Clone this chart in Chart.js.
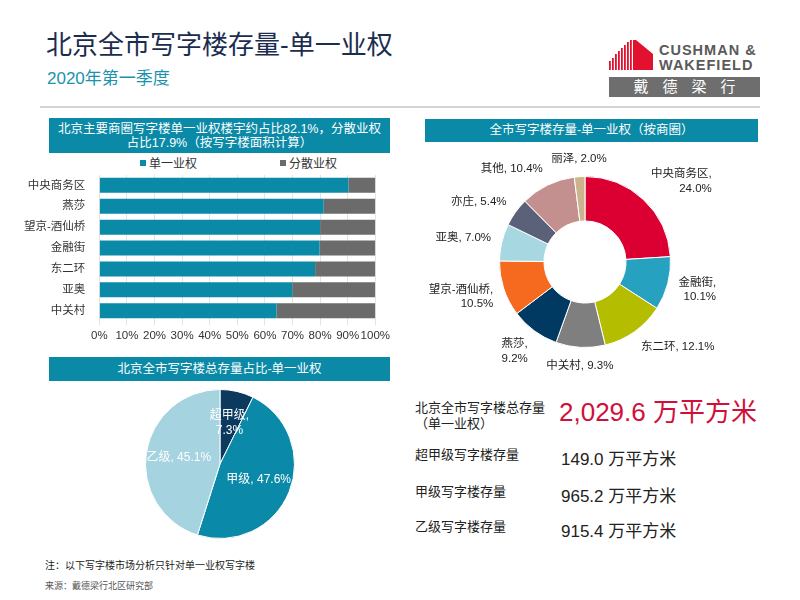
<!DOCTYPE html>
<html>
<head>
<meta charset="utf-8">
<script src="https://cdn.jsdelivr.net/npm/chart.js@4"></script>
<style>
  body { margin: 0; background: #fff; font-family: "Liberation Sans", "Noto Sans CJK SC", sans-serif; }
  #page { position: relative; width: 800px; height: 600px; overflow: hidden; }
  .abs { position: absolute; white-space: nowrap; }
  .hdr { position: absolute; background: #0b8aa8; color: #fff; font-size: 12.5px; text-align: center; }
  .lbl { position: absolute; font-size: 13px; color: #222; line-height: 16px; }
  .val { position: absolute; font-size: 17px; color: #222; white-space: nowrap; }
</style>
</head>
<body>
<div id="page">
  <div class="abs" style="left:46px;top:24px;font-size:26px;color:#1b2d4f;">北京全市写字楼存量-单一业权</div>
  <div class="abs" style="left:47px;top:64px;font-size:17px;color:#1a93ad;">2020年第一季度</div>

  <!-- logo -->
  <svg class="abs" style="left:609px;top:40px;" width="46" height="30">
    <g fill="#e2112d">
      <rect x="0" y="21" width="1.8" height="9"/>
      <rect x="3" y="18" width="1.8" height="12"/>
      <rect x="6" y="14" width="1.8" height="16"/>
      <rect x="9" y="11" width="1.8" height="19"/>
      <rect x="12" y="8" width="1.8" height="22"/>
      <rect x="15" y="5" width="1.8" height="25"/>
      <rect x="18" y="2" width="1.8" height="28"/>
      <rect x="21" y="0" width="1.8" height="30"/>
      <polygon points="24,0 27,0 44,14 44,30 24,30"/>
    </g>
  </svg>
  <div class="abs" style="left:659px;top:43px;font-size:14.5px;font-weight:bold;color:#5a5a5a;letter-spacing:1px;line-height:15px;">CUSHMAN &amp;<br>WAKEFIELD</div>
  <div class="abs" style="left:609px;top:77px;width:151px;height:20px;background:#6e6e6e;color:#fff;font-size:15px;line-height:20px;text-align:center;letter-spacing:14px;text-indent:14px;">戴德梁行</div>
  <div class="abs" style="left:40px;top:106px;width:720px;height:2px;background:#d4d4d4;"></div>

  <!-- section 1 -->
  <div class="hdr" style="left:49px;top:118px;width:341px;height:35px;line-height:14px;padding-top:4px;box-sizing:border-box;">北京主要商圈写字楼单一业权楼宇约占比82.1%，分散业权<br>占比17.9%（按写字楼面积计算）</div>
  <div id="barLegend" class="abs" style="left:0;top:156px;width:440px;height:16px;font-size:12px;color:#333;"></div>
  <div class="abs" style="left:18px;top:162px;width:376px;height:185px;"><canvas id="barChart"></canvas></div>

  <!-- section 2 -->
  <div class="hdr" style="left:425px;top:119px;width:333px;height:23px;line-height:23px;">全市写字楼存量-单一业权（按商圈）</div>
  <div class="abs" style="left:420px;top:146px;width:340px;height:232px;"><canvas id="donutChart"></canvas></div>

  <!-- section 3 -->
  <div class="hdr" style="left:49px;top:357px;width:341px;height:24px;line-height:24px;">北京全市写字楼总存量占比-单一业权</div>
  <div class="abs" style="left:100px;top:384px;width:240px;height:160px;"><canvas id="pieChart"></canvas></div>

  <div class="abs" style="left:45px;top:557px;font-size:10px;color:#222;">注：以下写字楼市场分析只针对单一业权写字楼</div>
  <div class="abs" style="left:45px;top:579px;font-size:9px;color:#555;">来源：戴德梁行北区研究部</div>

  <!-- section 4 -->
  <div id="stats"></div>
</div>

<script>
var FONT = '"Liberation Sans", "Noto Sans CJK SC", sans-serif';

// bar chart: share by ownership type per business district
var districts = ['中央商务区', '燕莎', '望京-酒仙桥', '金融街', '东二环', '亚奥', '中关村'];
var singleOwner = [90.3, 81.3, 80.0, 79.8, 78.2, 69.9, 64.2];
var splitOwner = [9.7, 18.7, 20.0, 20.2, 21.8, 30.1, 35.8];
var seriesNames = ['单一业权', '分散业权'];
var xTicks = [0, 10, 20, 30, 40, 50, 60, 70, 80, 90, 100];

// doughnut: city-wide stock by district
var donutNames = ['中央商务区', '金融街', '东二环', '中关村', '燕莎', '望京-酒仙桥', '亚奥', '亦庄', '其他', '丽泽'];
var donutValues = [24.0, 10.1, 12.1, 9.3, 9.2, 10.5, 7.0, 5.4, 10.4, 2.0];

// pie: grade shares
var gradeNames = ['超甲级', '甲级', '乙级'];
var gradeValues = [7.3, 47.6, 45.1];

// stock figures
var totalLabel = ['北京全市写字楼总存量', '（单一业权）'];
var totalStock = 2029.6;
var stockLabels = ['超甲级写字楼存量', '甲级写字楼存量', '乙级写字楼存量'];
var stockValues = [149.0, 965.2, 915.4];
var unit = '万平方米';

var barColors = ['#0b8aa8', '#6b6b6b'];
var donutColors = ['#dc0032', '#26a1c0', '#b5bd00', '#7f7f7f', '#003a63', '#f56a1e', '#a7d7e1', '#5a6179', '#c4908f', '#cdb38d'];
var donutWrap = [true, true, false, false, true, true, false, false, false, false];
var gradeColors = ['#0b3a5e', '#0a89a8', '#a5d3df'];
var gradeWrap = [true, false, false];

// legend for the bar chart
var legendHtml = '';
var legendX = [140, 280];
seriesNames.forEach(function(n, i) {
    legendHtml += '<span style="position:absolute;left:' + legendX[i] + 'px;top:0;line-height:16px;">' +
        '<span style="display:inline-block;width:6px;height:6px;background:' + barColors[i] + ';margin-right:3px;vertical-align:2px;"></span>' + n + '</span>';
});
document.getElementById('barLegend').innerHTML = legendHtml;

// stats block
function fmt(v) {
    return v.toLocaleString('en-US', {minimumFractionDigits: 1, maximumFractionDigits: 1});
}
var statsHtml = '<div class="lbl" style="left:415px;top:400px;">' + totalLabel[0] + '<br>' + totalLabel[1] + '</div>' +
    '<div class="val" style="left:559px;top:391px;font-size:26px;color:#d0103a;">' + fmt(totalStock) + ' ' + unit + '</div>';
var rowY = [447, 484, 519];
stockLabels.forEach(function(l, i) {
    statsHtml += '<div class="lbl" style="left:415px;top:' + rowY[i] + 'px;">' + l + '</div>' +
        '<div class="val" style="left:561px;top:' + (rowY[i] - 2) + 'px;">' + fmt(stockValues[i]) + ' ' + unit + '</div>';
});
document.getElementById('stats').innerHTML = statsHtml;

// bar chart
new Chart(document.getElementById('barChart'), {
    type: 'bar',
    data: {
        labels: districts,
        datasets: [
            { label: seriesNames[0], data: singleOwner, backgroundColor: barColors[0] },
            { label: seriesNames[1], data: splitOwner, backgroundColor: barColors[1] }
        ]
    },
    options: {
        indexAxis: 'y',
        responsive: true,
        maintainAspectRatio: false,
        animation: false,
        layout: { padding: { top: 0, right: 4 } },
        plugins: { legend: { display: false }, tooltip: { enabled: false } },
        scales: {
            x: {
                stacked: true,
                min: 0,
                max: 100,
                afterBuildTicks: function(axis) {
                    axis.ticks = xTicks.map(function(v) { return { value: v }; });
                },
                ticks: {
                    callback: function(v) { return v + '%'; },
                    font: { family: FONT, size: 11.5 },
                    color: '#333',
                    maxRotation: 0,
                    autoSkip: false,
                    padding: 4
                },
                grid: { color: '#e4e4e4', drawTicks: true, tickLength: 4 },
                border: { display: false }
            },
            y: {
                stacked: true,
                ticks: { font: { family: FONT, size: 11.5 }, color: '#333', padding: 6 },
                grid: { display: false },
                border: { display: false },
                barPercentage: 0.38,
                categoryPercentage: 1
            }
        }
    }
});

// outside labels for doughnut, inside labels for pie
function arcLabels(opts) {
    return {
        id: opts.id,
        afterDatasetsDraw: function(chart) {
            var ctx = chart.ctx;
            var meta = chart.getDatasetMeta(0);
            var names = chart.data.labels;
            var vals = chart.data.datasets[0].data;
            ctx.save();
            ctx.font = opts.size + 'px ' + FONT;
            ctx.fillStyle = opts.color;
            ctx.textBaseline = 'middle';
            meta.data.forEach(function(arc, i) {
                var mid = (arc.startAngle + arc.endAngle) / 2;
                var r = opts.inside ? arc.outerRadius * opts.factor : arc.outerRadius + opts.gap;
                var x = arc.x + Math.cos(mid) * r;
                var y = arc.y + Math.sin(mid) * r;
                var lines = opts.wrap[i] ? [names[i] + ',', vals[i].toFixed(1) + '%'] : [names[i] + ', ' + vals[i].toFixed(1) + '%'];
                var lh = opts.size + 3;
                var h = lines.length * lh;
                var top;
                if (opts.inside) {
                    ctx.textAlign = 'center';
                    top = y - h / 2;
                } else {
                    var c = Math.cos(mid);
                    ctx.textAlign = c > 0.2 ? 'left' : (c < -0.2 ? 'right' : 'center');
                    top = y - h / 2 + Math.sin(mid) * h / 2;
                }
                lines.forEach(function(t, k) {
                    var align = ctx.textAlign;
                    if (!opts.inside && lines.length > 1 && align === 'left' && k === 1) {
                        ctx.textAlign = 'right';
                        ctx.fillText(t, x + ctx.measureText(lines[0]).width, top + lh * k + lh / 2);
                        ctx.textAlign = align;
                    } else {
                        ctx.fillText(t, x, top + lh * k + lh / 2);
                    }
                });
            });
            ctx.restore();
        }
    };
}

// doughnut: canvas 340x232 at (420,146); ring centred near (585,262)
new Chart(document.getElementById('donutChart'), {
    type: 'doughnut',
    data: {
        labels: donutNames,
        datasets: [{ data: donutValues, backgroundColor: donutColors, borderColor: '#fff', borderWidth: 1 }]
    },
    options: {
        responsive: true,
        maintainAspectRatio: false,
        animation: false,
        cutout: '48%',
        layout: { padding: { left: 79, right: 89, top: 30, bottom: 30 } },
        plugins: { legend: { display: false }, tooltip: { enabled: false } }
    },
    plugins: [arcLabels({ id: 'donutLabels', size: 11.5, color: '#222', gap: 11, inside: false, wrap: donutWrap })]
});

// pie: canvas 240x160 at (100,384); centred near (220,464)
new Chart(document.getElementById('pieChart'), {
    type: 'pie',
    data: {
        labels: gradeNames,
        datasets: [{ data: gradeValues, backgroundColor: gradeColors, borderColor: '#fff', borderWidth: 1 }]
    },
    options: {
        responsive: true,
        maintainAspectRatio: false,
        animation: false,
        layout: { padding: { left: 45, right: 45, top: 5, bottom: 5 } },
        plugins: { legend: { display: false }, tooltip: { enabled: false } }
    },
    plugins: [arcLabels({ id: 'pieLabels', size: 12, color: '#fff', inside: true, factor: 0.56, wrap: gradeWrap })]
});
</script>
</body>
</html>
